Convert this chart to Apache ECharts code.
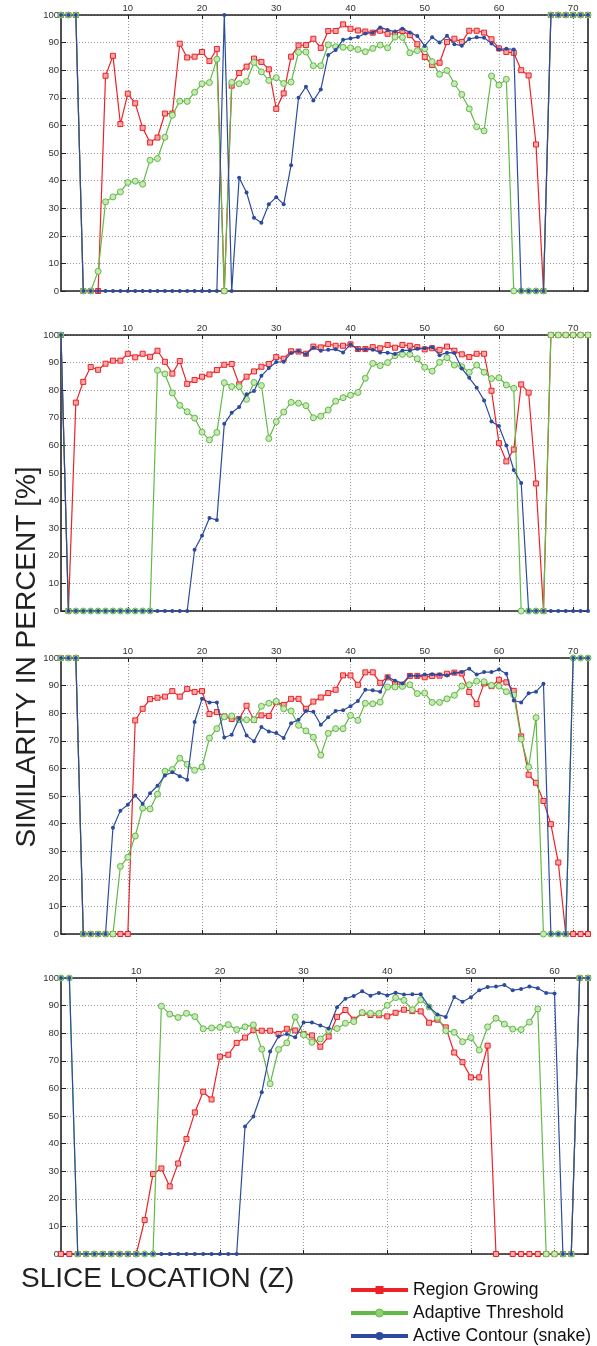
<!DOCTYPE html>
<html><head><meta charset="utf-8">
<script src="https://cdn.jsdelivr.net/npm/echarts@6/dist/echarts.min.js"></script>
<style>html,body{margin:0;padding:0;background:#fff}#c{width:597px;height:1346px}</style>
</head><body><div id="c"></div><script>
const sliceZ72 = [1,2,3,4,5,6,7,8,9,10,11,12,13,14,15,16,17,18,19,20,21,22,23,24,25,26,27,28,29,30,31,32,33,34,35,36,37,38,39,40,41,42,43,44,45,46,47,48,49,50,51,52,53,54,55,56,57,58,59,60,61,62,63,64,65,66,67,68,69,70,71,72];
const sliceZ64 = [1,2,3,4,5,6,7,8,9,10,11,12,13,14,15,16,17,18,19,20,21,22,23,24,25,26,27,28,29,30,31,32,33,34,35,36,37,38,39,40,41,42,43,44,45,46,47,48,49,50,51,52,53,54,55,56,57,58,59,60,61,62,63,64];
const seriesNames = ['Region Growing','Adaptive Threshold','Active Contour (snake)'];

// Panel 1
const regionGrowing1 = [100,100,100,0,0,0,78,85.2,60.5,71.5,68,59.1,53.8,55.6,64.3,64.3,89.6,84.6,84.9,86.6,83.3,87.7,0,74.4,79,81.3,84.2,83,80.3,66,71.6,84.9,89,89.1,91.4,88.1,94.2,94.2,96.6,95,94.4,94,93.6,94.3,93.2,93.1,94.2,92.7,89.4,84.8,81.9,82.7,90.2,91.4,90.2,94.3,94.3,93.6,91.2,87.9,86.6,86.3,80,78.1,53.1,0,100,100,100,100,100,100];
const adaptiveThreshold1 = [100,100,100,0,0,7.1,32.3,34.1,35.9,39.3,39.8,38.7,47.4,48,55.7,63.7,68.8,68.7,72,75.1,75.5,84,0,75.6,75.1,75.9,82.8,79.4,76.3,77.3,75.2,75.7,86.5,86.6,81.6,81.6,89.2,88.5,88.3,88.1,87.5,86.7,87.9,89.1,88.1,92,91.9,86.3,87.1,87.8,83.1,78.5,79.9,75.1,71.2,66,59.5,58,77.9,74.6,76.7,0,0,0,0,0,100,100,100,100,100,100];
const activeContour1 = [100,100,100,0,0,0,0,0,0,0,0,0,0,0,0,0,0,0,0,0,0,0,100,0,41,35.7,26.5,24.7,31.4,34,31.4,45.6,70,74,69,73,85.5,87.3,91,91.5,92,93.3,93.6,95.5,94.6,94,95,93.7,92.4,88.8,91.9,90,92.5,89.4,88.9,91.3,91.9,91.8,89.7,87.5,87.8,87.5,0,0,0,0,100,100,100,100,100,100];

// Panel 2
const regionGrowing2 = [100,0,75.5,83,88.4,87.4,89.6,90.7,90.7,93.2,91.9,93.2,92.1,94.3,90.3,86,90.6,82.3,83.7,84.9,85.7,87.3,89.2,89.5,82.1,84.9,86.8,88.5,89.5,92,91.4,94.1,94,93.2,95.8,95.5,96.7,96.1,96.1,96.6,94.9,94.9,95.6,95.2,96.4,95.4,96.4,96.1,95.6,94.8,95.2,94.6,95.8,94.3,93,92,93.2,93.2,79.8,60.8,54.2,58.5,82.1,79.1,46.2,0,100,100,100,100,100,100];
const adaptiveThreshold2 = [100,0,0,0,0,0,0,0,0,0,0,0,0,87.2,85.9,79,74.5,72.2,69.9,64.8,62,64.7,82.7,81.3,81.3,76.7,82.8,81.7,62.5,68.6,72.1,75.6,75.3,74.4,70,70.6,72.8,76,77.3,78.2,79.2,84.3,89.7,88.9,90,92.5,93,93,91.4,88.3,86.9,90.1,91.8,89.1,88.5,86.5,89.1,86.5,84.2,84.5,81.9,80.7,0,0,0,0,100,100,100,100,100,100];
const activeContour2 = [100,0,0,0,0,0,0,0,0,0,0,0,0,0,0,0,0,0,22.2,27.3,33.7,33,67.8,71.8,73.9,78.5,79.7,85.2,88,90.2,90.3,93.5,94.2,93,95.4,94.3,94.7,94.8,93.7,96.6,94.8,94.8,94.7,93.7,93.6,93.1,94.4,94.4,95,95.2,95.6,92.7,93.6,93.5,87.9,84.5,80.9,76.3,68.7,67,60,51.1,46.4,0,0,0,0,0,0,0,0,0];

// Panel 3
const regionGrowing3 = [100,100,100,0,0,0,0,0,0,0,77.4,81.6,85.1,85.6,86,88,86,88.8,87.7,88,79.7,80.4,78.8,77.9,77.9,82.7,77.6,79.2,79,84,83,85.2,85.2,81.6,84.2,85.7,87.3,88.5,93.7,93.7,90.3,94.8,94.8,91,93,90.7,90.3,93.5,93.5,93,93.5,93.6,94.3,94.7,94.4,87.7,83.3,90.8,89.8,92.1,91.2,88.1,71.6,57.7,54.8,48.2,39.8,25.9,0,0,0,0];
const adaptiveThreshold3 = [100,100,100,0,0,0,0,0,24.5,27.8,35.5,45.6,45.3,50.7,59,59.6,63.7,61.5,59.3,60.5,71,74.4,78.7,79,77.6,77.6,77.6,82.5,83.6,84.3,81.6,80.8,75.6,73.6,71.3,64.8,72.7,74.4,74.4,79.2,77.4,83.6,83.4,84,89.5,89.5,89.7,90.3,87.1,87.3,83.9,83.9,85.2,86.5,89.8,90.3,91.6,91.4,90.1,89.8,87.8,86.6,70.6,60.5,78.4,0,0,0,0,100,100,100];
const activeContour3 = [100,100,100,0,0,0,0,38.5,44.7,46.8,50.2,47.2,51,53.7,57.4,58.6,57.2,55.9,76.8,85.2,83.9,83.9,71.2,72.2,78.2,71.9,69.8,75,73.4,72.8,71,76.4,77.6,80.8,80.5,75.8,78.5,80.8,81.1,82.5,84.4,88.5,88.3,87.8,93.1,91.8,90.8,93.7,93.5,94,94.1,94,93.7,94.6,94.9,96.1,94,94.9,94.9,95.8,94.3,84.6,83.9,87.2,87.8,90.7,0,0,0,100,100,100];

// Panel 4
const regionGrowing4 = [0,0,0,0,0,0,0,0,0,0,12.3,29,31,24.5,32.8,41.7,51.3,58.8,56,71.5,72.2,76.5,78.4,81.1,80.9,80.9,79.7,81.6,81,79.7,79.2,75.1,78.8,85.9,88.4,84.9,87.3,86.6,86.5,86.1,87.4,88.5,88,87.9,83.8,84.9,82.1,73,69.5,64,64,75.5,0,null,0,0,0,0,0,0,0,0,100,100];
const adaptiveThreshold4 = [100,100,0,0,0,0,0,0,0,0,0,0,89.8,86.9,85.7,87.2,86,81.6,81.9,82.1,83.1,81.3,82.3,83,74.2,61.7,74.1,76.5,85.9,79.4,76.7,77.9,81,81.7,83.6,84.2,87.5,87.2,87.2,90.1,92.9,91.9,88.5,92.1,89.5,85.7,80.9,80.3,76.9,78.4,73.9,82.3,85.4,83.3,81.5,81.3,84,88.8,0,0,0,0,100,100];
const activeContour4 = [100,100,0,0,0,0,0,0,0,0,0,0,0,0,0,0,0,0,0,0,0,0,46.2,49.8,58.6,73.4,78.8,79.7,78.5,83.9,83.9,82.8,81.7,89.4,92.5,93.5,95.2,93.6,94.6,93.7,94.7,94,94.1,94.1,89.6,86.8,85.9,93.1,91.4,93,95.6,96.7,96.9,97.5,95.6,96,96.9,96.3,94.6,94.4,0,0,100,100];

const panels = [
  {x: sliceZ72, data: [regionGrowing1, adaptiveThreshold1, activeContour1]},
  {x: sliceZ72, data: [regionGrowing2, adaptiveThreshold2, activeContour2]},
  {x: sliceZ72, data: [regionGrowing3, adaptiveThreshold3, activeContour3]},
  {x: sliceZ64, data: [regionGrowing4, adaptiveThreshold4, activeContour4]}
];
const panelTops = [15, 335, 658, 978];

const FONT = '"Liberation Sans", Arial, Helvetica, sans-serif';
const RED = '#ec2227', GREEN = '#62ba46', BLUE = '#2c4b9e';
const styles = [
  {symbol:'rect', symbolSize:5, itemStyle:{color:'#f8a6a6', borderColor:RED, borderWidth:1}, lineStyle:{color:RED, width:1.2}, color:RED},
  {symbol:'circle', symbolSize:6, itemStyle:{color:'#c8e8b8', borderColor:GREEN, borderWidth:1}, lineStyle:{color:GREEN, width:1.2}, color:GREEN},
  {symbol:'circle', symbolSize:4, itemStyle:{color:BLUE, borderWidth:0}, lineStyle:{color:BLUE, width:1.2}, color:BLUE}
];

const grid = [], xAxis = [], yAxis = [], series = [];
const tenth = (i, v) => Number(v) % 10 === 0;
const dotted = {show:true, lineStyle:{color:'#9a9a9a', width:1, type:[1,2]}};
panels.forEach((p, i) => {
  grid.push({left:61, width:527, top:panelTops[i], height:276, containLabel:false});
  xAxis.push({type:'category', gridIndex:i, position:'top', data:p.x, boundaryGap:false,
    axisLine:{show:true, onZero:false, lineStyle:{color:'#222', width:1.6}},
    axisTick:{show:true, inside:true, length:4, interval:tenth, lineStyle:{color:'#222'}},
    axisLabel:{show:true, interval:tenth, margin:2, fontSize:9.5, color:'#333', fontFamily:FONT},
    splitLine:Object.assign({interval:tenth}, dotted)});
  xAxis.push({type:'category', gridIndex:i, position:'bottom', data:p.x, boundaryGap:false,
    axisLine:{show:true, onZero:false, lineStyle:{color:'#222', width:1.6}},
    axisTick:{show:true, inside:true, length:4, interval:tenth, lineStyle:{color:'#222'}},
    axisLabel:{show:false}, splitLine:{show:false}});
  yAxis.push({type:'value', gridIndex:i, position:'left', min:0, max:100, interval:10,
    axisLine:{show:true, onZero:false, lineStyle:{color:'#222', width:1.6}},
    axisTick:{show:true, inside:true, length:5, lineStyle:{color:'#222'}},
    axisLabel:{show:true, margin:2, fontSize:9.5, color:'#333', fontFamily:FONT},
    splitLine:dotted});
  yAxis.push({type:'value', gridIndex:i, position:'right', min:0, max:100, interval:10,
    axisLine:{show:true, onZero:false, lineStyle:{color:'#222', width:1.6}},
    axisTick:{show:true, inside:true, length:4, lineStyle:{color:'#222'}},
    axisLabel:{show:false}, splitLine:{show:false}});
  p.data.forEach((arr, k) => {
    series.push(Object.assign({
      type:'line', name:seriesNames[k], xAxisIndex:2*i, yAxisIndex:2*i,
      data:arr, showSymbol:true, showAllSymbol:true, connectNulls:false,
      animation:false, emphasis:{disabled:true}, z:2+k
    }, JSON.parse(JSON.stringify(styles[k]))));
  });
});

const chart = echarts.init(document.getElementById('c'), null, {renderer:'canvas'});
chart.setOption({
  animation:false,
  backgroundColor:'#fff',
  grid, xAxis, yAxis, series,
  legend:{orient:'vertical', left:349, top:1281, height:100, padding:0, itemWidth:57, itemHeight:10, itemGap:5, selectedMode:false,
    textStyle:{fontSize:17.5, color:'#111', fontFamily:FONT},
    data:[
      {name:seriesNames[0], itemStyle:{color:RED, borderWidth:0}, lineStyle:{color:RED, width:4}},
      {name:seriesNames[1], itemStyle:{color:'#8fd070', borderColor:GREEN, borderWidth:1}, lineStyle:{color:GREEN, width:4}},
      {name:seriesNames[2], itemStyle:{color:BLUE, borderWidth:0}, lineStyle:{color:BLUE, width:4}}
    ]},
  graphic:[
    {type:'text', x:21, y:1279, style:{text:'SLICE LOCATION (Z)', fontSize:28, fontFamily:FONT, fill:'#222', verticalAlign:'middle'}},
    {type:'text', x:27, y:657, rotation:Math.PI/2, style:{text:'SIMILARITY IN PERCENT [%]', fontSize:28, fontFamily:FONT, fill:'#222', align:'center', verticalAlign:'middle'}}
  ]
});
</script></body></html>
